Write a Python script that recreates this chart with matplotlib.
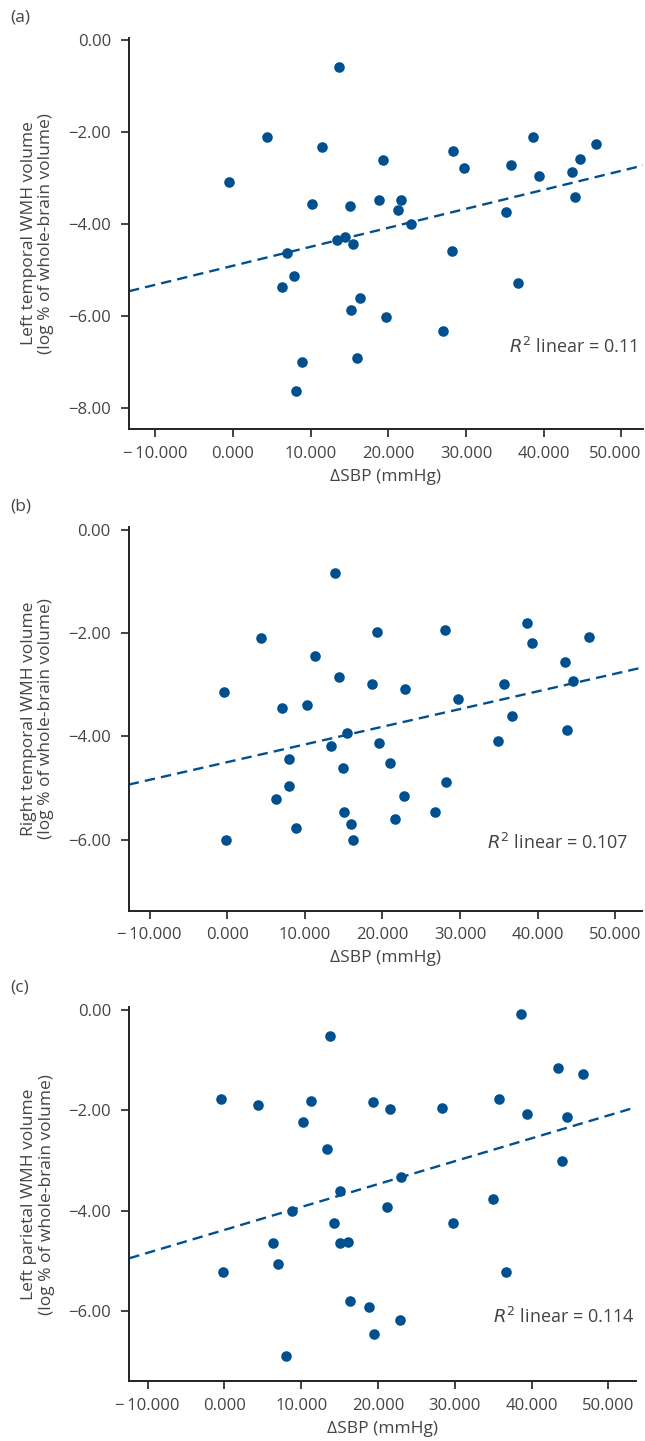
import matplotlib
matplotlib.use("Agg")
import matplotlib.pyplot as plt
from matplotlib.ticker import FuncFormatter
from matplotlib.transforms import ScaledTranslation

plt.rcParams['font.family'] = ['Open Sans', 'DejaVu Sans']

# (a) left temporal
sbp_a = [-0.5, 4.4, 6.3, 6.95, 7.85, 8.1, 8.9, 10.2, 11.4, 13.4, 13.7, 14.4,
         15.1, 15.2, 15.4, 16.0, 16.3, 18.8, 19.3, 19.7, 21.2, 21.6, 22.9, 27.0,
         28.2, 28.3, 29.7, 35.1, 35.8, 36.7, 38.6, 39.4, 43.7, 44.0, 44.7, 46.8]
wmh_a = [-3.08, -2.12, -5.37, -4.63, -5.13, -7.63, -7.00, -3.57, -2.33, -4.35, -0.59, -4.29,
         -3.62, -5.87, -4.44, -6.91, -5.61, -3.47, -2.60, -6.02, -3.70, -3.47, -4.01, -6.32,
         -4.59, -2.41, -2.78, -3.74, -2.72, -5.28, -2.11, -2.96, -2.88, -3.41, -2.59, -2.27]

# (b) right temporal
sbp_b = [-0.45, -0.2, 4.4, 6.26, 7.0, 7.9, 8.0, 8.9, 10.26, 11.25, 13.35, 13.87,
         14.4, 14.9, 15.1, 15.4, 15.9, 16.2, 18.7, 19.25, 19.5, 21.0, 21.6, 22.8,
         22.9, 26.8, 28.1, 28.2, 29.7, 34.9, 35.7, 36.7, 38.6, 39.3, 43.5, 43.8,
         44.5, 46.6]
wmh_b = [-3.15, -6.00, -2.10, -5.21, -3.46, -4.44, -4.96, -5.78, -3.40, -2.44, -4.19, -0.83,
         -2.85, -4.62, -5.47, -3.94, -5.70, -6.01, -2.98, -1.97, -4.12, -4.52, -5.61, -5.16,
         -3.08, -5.47, -1.93, -4.88, -3.28, -4.10, -2.99, -3.60, -1.80, -2.20, -2.56, -3.88,
         -2.93, -2.07]

# (c) left parietal
sbp_c = [-0.4, -0.2, 4.4, 6.3, 7.03, 8.0, 8.85, 10.2, 11.3, 13.4, 13.7, 14.3,
         15.1, 15.1, 16.1, 16.35, 18.8, 19.3, 19.5, 21.2, 21.5, 22.8, 23.0, 28.3,
         29.7, 35.0, 35.7, 36.7, 38.6, 39.4, 43.5, 43.9, 44.6, 46.7]
wmh_c = [-1.78, -5.22, -1.89, -4.65, -5.05, -6.90, -4.00, -2.24, -1.81, -2.77, -0.51, -4.24,
         -3.61, -4.65, -4.62, -5.79, -5.92, -1.83, -6.45, -3.93, -1.98, -6.17, -3.32, -1.95,
         -4.24, -3.77, -1.78, -5.22, -0.07, -2.08, -1.15, -3.00, -2.14, -1.27]

# fit lines (intercept, slope)
fit_a = (-4.91, 0.0413)
fit_b = (-4.50, 0.0343)
fit_c = (-4.38, 0.0456)

r2_labels = ["0.11", "0.107", "0.114"]
panel_tags = ["(a)", "(b)", "(c)"]
ylabels = ["Left temporal WMH volume\n(log % of whole-brain volume)",
           "Right temporal WMH volume\n(log % of whole-brain volume)",
           "Left parietal WMH volume\n(log % of whole-brain volume)"]
xticks = [-10, 0, 10, 20, 30, 40, 50]

W, H = 645, 1441
fig = plt.figure(figsize=(W / 100, H / 100), dpi=100)

# pixel boxes: left, right, top, bottom
boxes = [(129, 643, 37.7, 429), (128.7, 641.7, 527.4, 910.7), (129.3, 636, 1007.5, 1381)]
xlims = [(-13.4, 52.8), (-12.7, 53.4), (-12.4, 53.6)]
ylims = [(-8.46, 0.05), (-7.38, 0.05), (-7.39, 0.05)]
yticks = [[0, -2, -4, -6, -8], [0, -2, -4, -6], [0, -2, -4, -6]]
r2_pos = [(0.988, 0.21), (0.973, 0.177), (0.998, 0.172)]
tag_y = [17, 507, 987]

dot = '#00508f'
txt = '#444444'
fs = 12.5
data = [(sbp_a, wmh_a, fit_a), (sbp_b, wmh_b, fit_b), (sbp_c, wmh_c, fit_c)]


def fmt_x(v, pos):
    s = f"{abs(v):.3f}"
    return ("\u2212\u2009" + s) if v < 0 else s


def fmt_y(v, pos):
    s = f"{abs(v):.2f}"
    return ("\u2212" + s) if v < -1e-9 else s


for i, (xs, ys, fit) in enumerate(data):
    l, r, t, b = boxes[i]
    ax = fig.add_axes([l / W, 1 - b / H, (r - l) / W, (b - t) / H])
    ax.scatter(xs, ys, s=58, color=dot, zorder=3, linewidths=0)
    x0, x1 = xlims[i]
    ax.plot([x0, x1], [fit[0] + fit[1] * x0, fit[0] + fit[1] * x1],
            color=dot, lw=1.7, linestyle=(0, (4.4, 2.6)), zorder=2)
    ax.set_xlim(x0, x1)
    ax.set_ylim(*ylims[i])
    ax.set_xticks(xticks)
    ax.set_yticks(yticks[i])
    ax.xaxis.set_major_formatter(FuncFormatter(fmt_x))
    ax.yaxis.set_major_formatter(FuncFormatter(fmt_y))
    for s in ['top', 'right']:
        ax.spines[s].set_visible(False)
    for s in ['left', 'bottom']:
        ax.spines[s].set_linewidth(1.4)
        ax.spines[s].set_color('#222222')
    ax.tick_params(direction='out', length=6, width=1.2, colors='#222222',
                   labelcolor=txt, labelsize=12)
    ax.tick_params(axis='x', pad=6)
    ax.tick_params(axis='y', pad=7)
    ax.set_xlabel("\u0394SBP (mmHg)", fontsize=fs, color=txt, labelpad=5)
    ax.set_ylabel(ylabels[i], fontsize=fs, color=txt, labelpad=10,
                  linespacing=1.1)
    ax.text(r2_pos[i][0], r2_pos[i][1], f"$R^2$ linear = {r2_labels[i]}",
            transform=ax.transAxes, ha='right', va='center', fontsize=13,
            color=txt)
    fig.text(10 / W, 1 - tag_y[i] / H, panel_tags[i], fontsize=12.5,
             color=txt, ha='left', va='center')
    if i == 0:
        # keep the last label inside the figure edge
        lab = ax.get_xticklabels()[-1]
        lab.set_transform(lab.get_transform() + ScaledTranslation(-6 / 100, 0, fig.dpi_scale_trans))

fig.savefig("out.png", dpi=100)
